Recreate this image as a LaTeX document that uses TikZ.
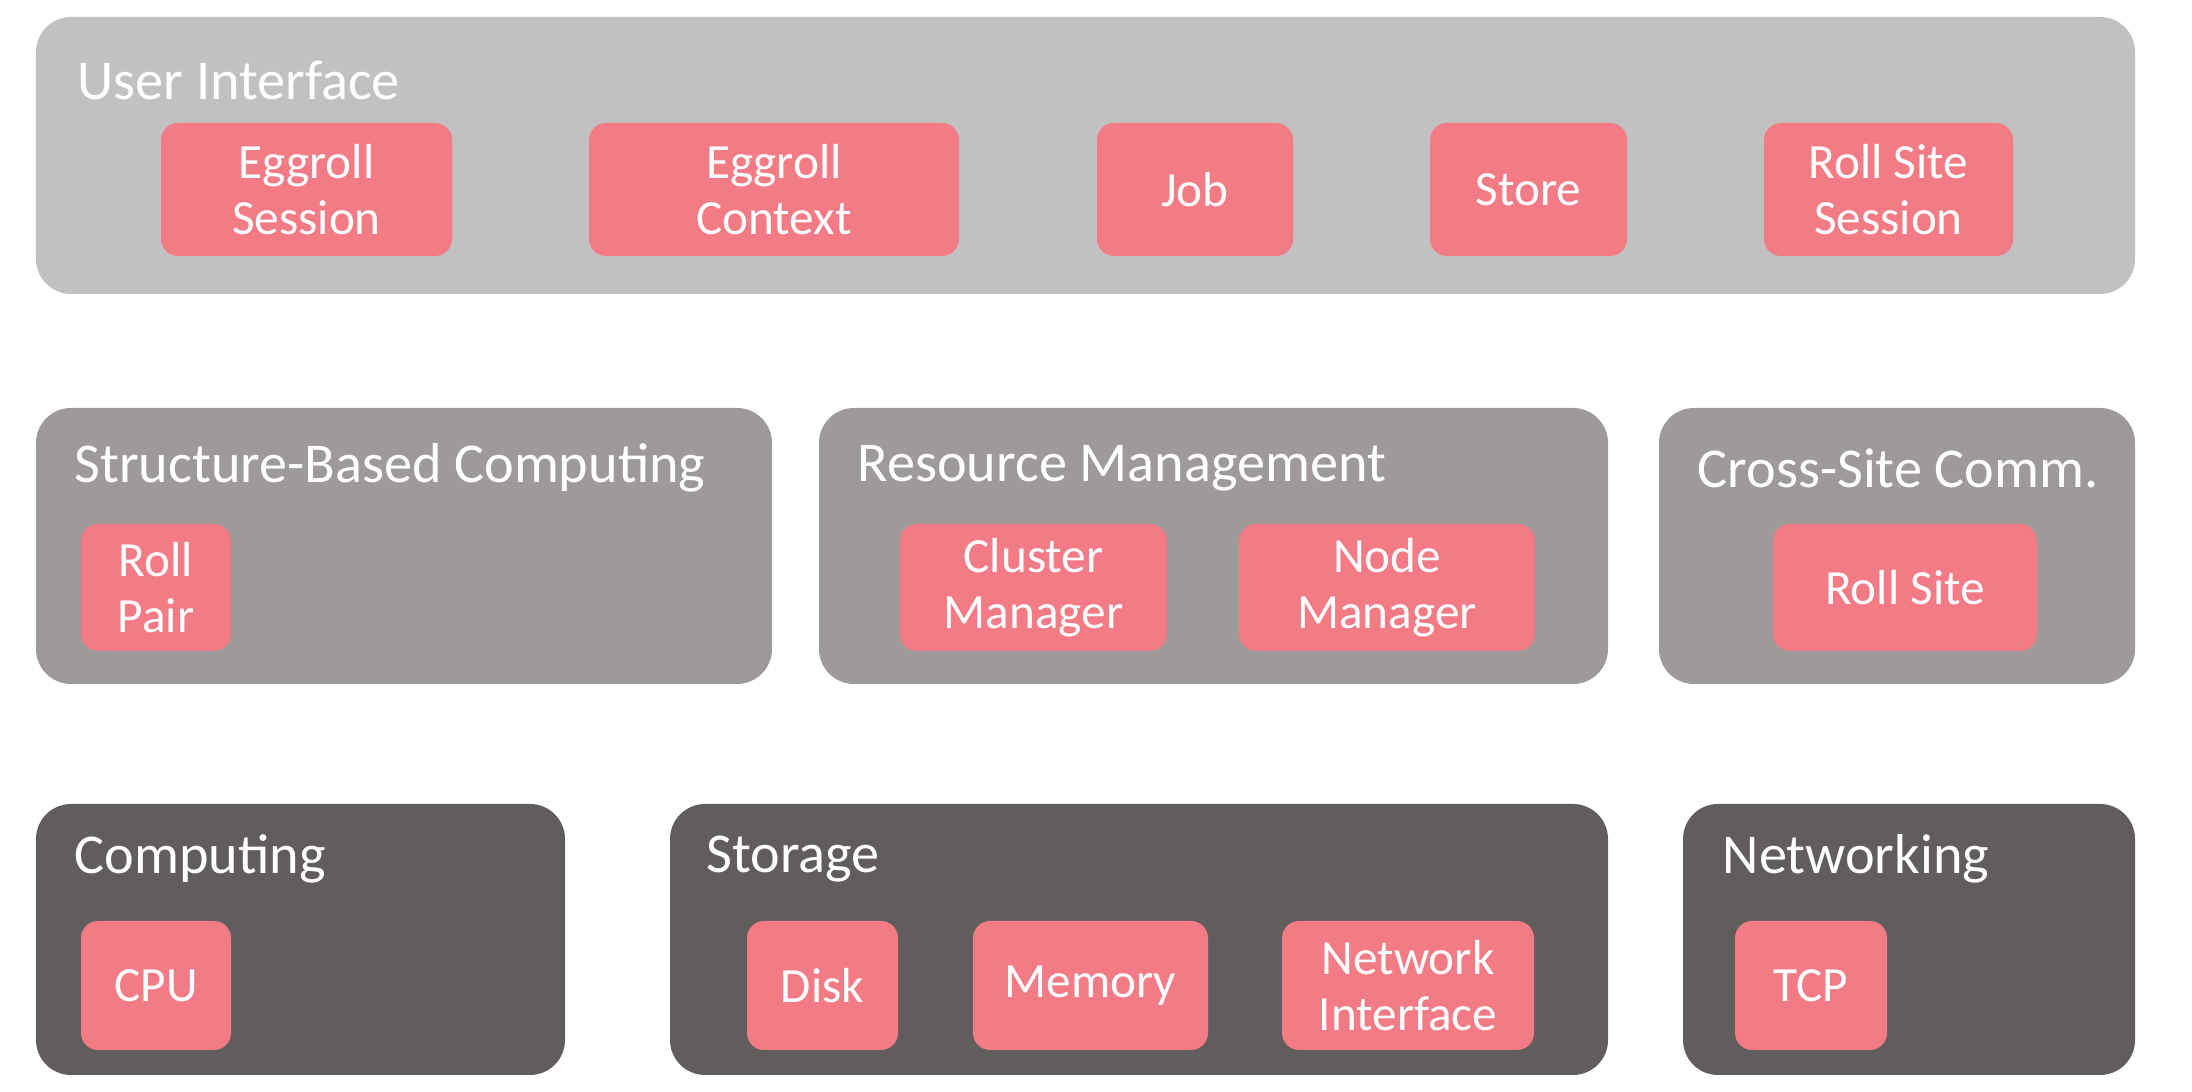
\documentclass[tikz,border=0pt]{standalone}
\usepackage{fontspec}
\setmainfont{Carlito}
\usepackage{tikz}

\definecolor{uigray}{HTML}{C2C0C1}
\definecolor{midgray}{HTML}{9E9A9A}
\definecolor{darkgray}{HTML}{625D5D}
\definecolor{partpink}{HTML}{F27B85}

\tikzset{
	layer/.style={rectangle,rounded corners=0.35cm,inner sep=0pt},
	uilayer/.style={layer,fill=uigray},
	svclayer/.style={layer,fill=midgray},
	hwlayer/.style={layer,fill=darkgray},
	part/.style={rectangle,rounded corners=0.17cm,fill=partpink,inner sep=0pt,
		text=white,align=center,font=\fontsize{14pt}{16pt}\selectfont},
	title/.style={right,inner sep=0pt,text=white,font=\fontsize{16pt}{18pt}\selectfont}
}

\begin{document}
\begin{tikzpicture}
		\useasboundingbox (0,0) rectangle (21.92,10.92);
%		\draw[help lines] (0,0) grid (22,11);
		% top layer
		\path (10.855,9.365) node(ui) [uilayer,minimum width=20.99cm,minimum height=2.77cm] {};
		\path (0.77,10.12) node(ui_title) [title] {User Interface};
		\path (3.065,9.025) node(egg_session) [part,minimum width=2.91cm,minimum height=1.33cm] {Eggroll\\Session};
		\path (7.74,9.025) node(egg_context) [part,minimum width=3.70cm,minimum height=1.33cm] {Eggroll\\Context};
		\path (11.95,9.025) node(job) [part,minimum width=1.96cm,minimum height=1.33cm] {Job};
		\path (15.285,9.025) node(store) [part,minimum width=1.97cm,minimum height=1.33cm] {Store};
		\path (18.885,9.025) node(rs_session) [part,minimum width=2.49cm,minimum height=1.33cm] {Roll Site\\Session};

		% middle layer
		\path (4.04,5.46) node(sbc) [svclayer,minimum width=7.36cm,minimum height=2.76cm] {};
		\path (12.135,5.46) node(rm) [svclayer,minimum width=7.89cm,minimum height=2.76cm] {};
		\path (18.97,5.46) node(csc) [svclayer,minimum width=4.76cm,minimum height=2.76cm] {};
		\path (0.74,6.24) node(sbc_title) [title] {Structure-Based Computing};
		\path (8.57,6.24) node(rm_title) [title] {Resource Management};
		\path (16.97,6.24) node(csc_title) [title] {Cross-Site Comm.};
		\path (1.56,5.045) node(roll_pair) [part,minimum width=1.50cm,minimum height=1.27cm] {Roll\\Pair};
		\path (10.335,5.045) node(cluster_mgr) [part,minimum width=2.67cm,minimum height=1.27cm] {Cluster\\Manager};
		\path (13.87,5.045) node(node_mgr) [part,minimum width=2.96cm,minimum height=1.27cm] {Node\\Manager};
		\path (19.05,5.045) node(roll_site) [part,minimum width=2.64cm,minimum height=1.27cm] {Roll Site};

		% bottom layer
		\path (3.005,1.525) node(computing) [hwlayer,minimum width=5.29cm,minimum height=2.71cm] {};
		\path (11.39,1.525) node(storage) [hwlayer,minimum width=9.38cm,minimum height=2.71cm] {};
		\path (19.09,1.525) node(networking) [hwlayer,minimum width=4.52cm,minimum height=2.71cm] {};
		\path (0.74,2.33) node(computing_title) [title] {Computing};
		\path (7.06,2.33) node(storage_title) [title] {Storage};
		\path (17.22,2.33) node(networking_title) [title] {Networking};
		\path (1.56,1.065) node(cpu) [part,minimum width=1.50cm,minimum height=1.29cm] {CPU};
		\path (8.225,1.065) node(disk) [part,minimum width=1.51cm,minimum height=1.29cm] {Disk};
		\path (10.905,1.065) node(memory) [part,minimum width=2.35cm,minimum height=1.29cm] {Memory};
		\path (14.08,1.065) node(net_if) [part,minimum width=2.52cm,minimum height=1.29cm] {Network\\Interface};
		\path (18.11,1.065) node(tcp) [part,minimum width=1.52cm,minimum height=1.29cm] {TCP};
	\end{tikzpicture}
\end{document}
